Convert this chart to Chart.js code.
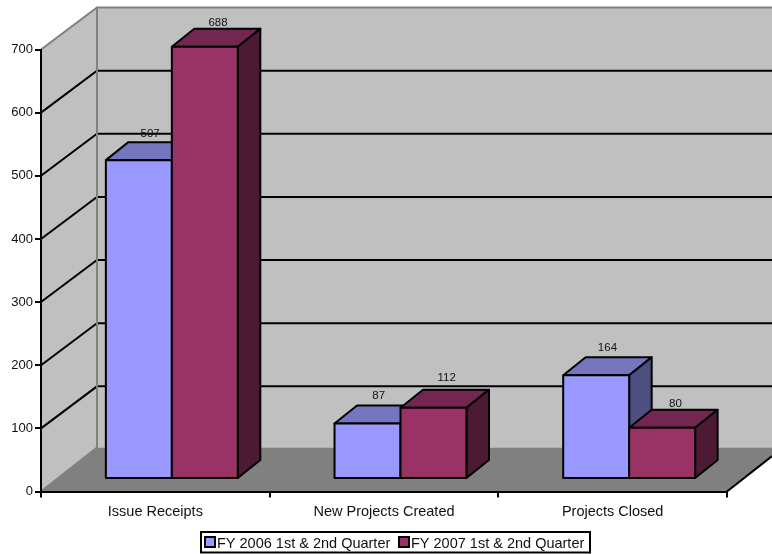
<!DOCTYPE html>
<html>
<head>
<meta charset="utf-8">
<script src="https://cdn.jsdelivr.net/npm/chart.js@4"></script>
<style>
body { margin:0; background:#fff; }
canvas { display:block; }
</style>
</head>
<body>
<canvas id="chart" width="772" height="554"></canvas>
<script>
// values
const categories = ['Issue Receipts', 'New Projects Created', 'Projects Closed'];
const fy2006 = [507, 87, 164];
const fy2007 = [688, 112, 80];
const yTicks = [0, 100, 200, 300, 400, 500, 600, 700];

const FONT = '"Liberation Sans", Arial, sans-serif';
const WALL = {dx:56, dy:-42, floor:-44};  // room depth
const BAR_SHIFT = {dx:16.5, dy:-13.5};  // bars stand a bit inside the room
const BAR_DEPTH = {dx:22.5, dy:-18};
const faces = [
    {front:'#9999ff', top:'#7676bf', side:'#4e4e80'},
    {front:'#993366', top:'#732650', side:'#4d1a33'}
];
const labelNudge = [[0, 2], [-2, -4], [-1, 2]];  // label offsets, per category

function poly(ctx, pts, fill, stroke, lw) {
    ctx.beginPath();
    pts.forEach((p, i) => i ? ctx.lineTo(p[0], p[1]) : ctx.moveTo(p[0], p[1]));
    ctx.closePath();
    if (fill) { ctx.fillStyle = fill; ctx.fill(); }
    if (stroke) { ctx.strokeStyle = stroke; ctx.lineWidth = lw; ctx.stroke(); }
}

function line(ctx, pts, color, lw) {
    ctx.beginPath();
    pts.forEach((p, i) => i ? ctx.lineTo(p[0], p[1]) : ctx.moveTo(p[0], p[1]));
    ctx.strokeStyle = color;
    ctx.lineWidth = lw;
    ctx.stroke();
}

function barBox(el) {
    let w = el.width / 2;
    return {l:el.x - w, r:el.x + w, t:el.y, b:el.base};
}

// walls, floor, grid
const room = {
    id:'room',
    beforeDraw(chart) {
        let ctx = chart.ctx, a = chart.chartArea, W = chart.width;
        let yS = chart.scales.y;
        let bx = a.left + WALL.dx, fy = a.bottom + WALL.floor, ty = a.top + WALL.dy;
        ctx.save();
        poly(ctx, [[a.left, a.top], [bx, ty], [W, ty], [W, fy], [bx, fy], [a.left, a.bottom]], '#c0c0c0');
        poly(ctx, [[a.left, a.bottom], [bx, fy], [W, fy], [W, fy + 9], [a.right, a.bottom]], '#808080');
        yTicks.slice(1, -1).forEach(v => {
            let y = yS.getPixelForValue(v);
            line(ctx, [[a.left, y], [bx, y + WALL.dy], [W, y + WALL.dy]], '#000', 2);
        });
        line(ctx, [[a.left, a.top], [bx, ty], [W, ty]], '#808080', 2);
        line(ctx, [[bx, ty], [bx, fy], [a.left, a.bottom]], '#808080', 2);
        line(ctx, [[a.right, a.bottom], [W, a.bottom + (W - a.right) * WALL.floor / WALL.dx]], '#000', 2);
        ctx.restore();
    },
    // chart.js paints the last dataset first, here the first must go under the second
    beforeDatasetDraw() {
        return false;
    },
    afterDatasetsDraw(chart) {
        let ctx = chart.ctx;
        chart.data.datasets.forEach((ds, i) => {
            let c = faces[i], bars = chart.getDatasetMeta(i).data;
            ctx.save();
            ctx.translate(BAR_SHIFT.dx, BAR_SHIFT.dy);
            ctx.lineJoin = 'round';
            bars.forEach(el => {
                let b = barBox(el), dx = BAR_DEPTH.dx, dy = BAR_DEPTH.dy;
                poly(ctx, [[b.l, b.t], [b.l + dx, b.t + dy], [b.r + dx, b.t + dy], [b.r, b.t]], c.top, '#000', 2);
                poly(ctx, [[b.r, b.t], [b.r + dx, b.t + dy], [b.r + dx, b.b + dy], [b.r, b.b]], c.side, '#000', 2);
                el.draw(ctx);
                poly(ctx, [[b.l, b.t], [b.r, b.t], [b.r, b.b], [b.l, b.b]], null, '#000', 2);
            });
            ctx.restore();
        });
        ctx.save();
        ctx.fillStyle = '#111';
        ctx.font = '11.5px ' + FONT;
        ctx.textAlign = 'center';
        ctx.textBaseline = 'middle';
        chart.data.datasets.forEach((ds, i) => {
            chart.getDatasetMeta(i).data.forEach((el, j) => {
                let x = el.x + BAR_SHIFT.dx + BAR_DEPTH.dx / 2 + (i ? 2 : 0);
                let y = el.y + BAR_SHIFT.dy + BAR_DEPTH.dy - 8 + labelNudge[j][i];
                ctx.fillText(ds.data[j], x, y);
            });
        });
        ctx.restore();
    },
    afterDraw(chart) {
        // boxed legend, sits off-centre under the plot
        let ctx = chart.ctx;
        ctx.save();
        ctx.strokeStyle = '#000';
        ctx.lineWidth = 2;
        ctx.strokeRect(201, 532, 389, 20.5);
        ctx.font = '14.5px ' + FONT;
        ctx.textBaseline = 'middle';
        let x = 205;
        chart.data.datasets.forEach((ds, i) => {
            ctx.fillStyle = faces[i].front;
            ctx.fillRect(x, 537, 10, 10);
            ctx.strokeRect(x, 537, 10, 10);
            ctx.fillStyle = '#111';
            ctx.fillText(ds.label, x + 12, 543.5);
            x += 194;
        });
        ctx.restore();
    }
};

new Chart(document.getElementById('chart'), {
    type:'bar',
    data:{
        labels:categories,
        datasets:[
            {label:'FY 2006 1st & 2nd Quarter', data:fy2006, backgroundColor:faces[0].front, yAxisID:'yBar', categoryPercentage:0.577, barPercentage:1},
            {label:'FY 2007 1st & 2nd Quarter', data:fy2007, backgroundColor:faces[1].front, yAxisID:'yBar', categoryPercentage:0.577, barPercentage:1}
        ]
    },
    plugins:[room],
    options:{
        responsive:false,
        animation:false,
        devicePixelRatio:1,
        layout:{padding:{left:0, top:49.5, right:45, bottom:0}},
        plugins:{legend:{display:false}, tooltip:{enabled:false}},
        scales:{
            x:{
                afterFit(s) { s.height = 62.5; },
                grid:{drawOnChartArea:false, offset:true, color:'#000', lineWidth:2, tickLength:6},
                border:{color:'#000', width:2},
                ticks:{color:'#111', font:{family:FONT, size:14.5}, padding:6, maxRotation:0}
            },
            y:{
                min:0, max:700,
                afterFit(s) { s.width = 41; },
                afterBuildTicks(s) { s.ticks = yTicks.map(v => ({value:v})); },
                grid:{drawOnChartArea:false, color:'#000', lineWidth:2, tickLength:6},
                border:{color:'#000', width:2},
                ticks:{color:'#111', font:{family:FONT, size:13}, padding:2}
            },
            // bars in the reference run a touch shorter than the printed axis
            yBar:{display:false, min:0, max:705}
        }
    }
});
</script>
</body>
</html>
